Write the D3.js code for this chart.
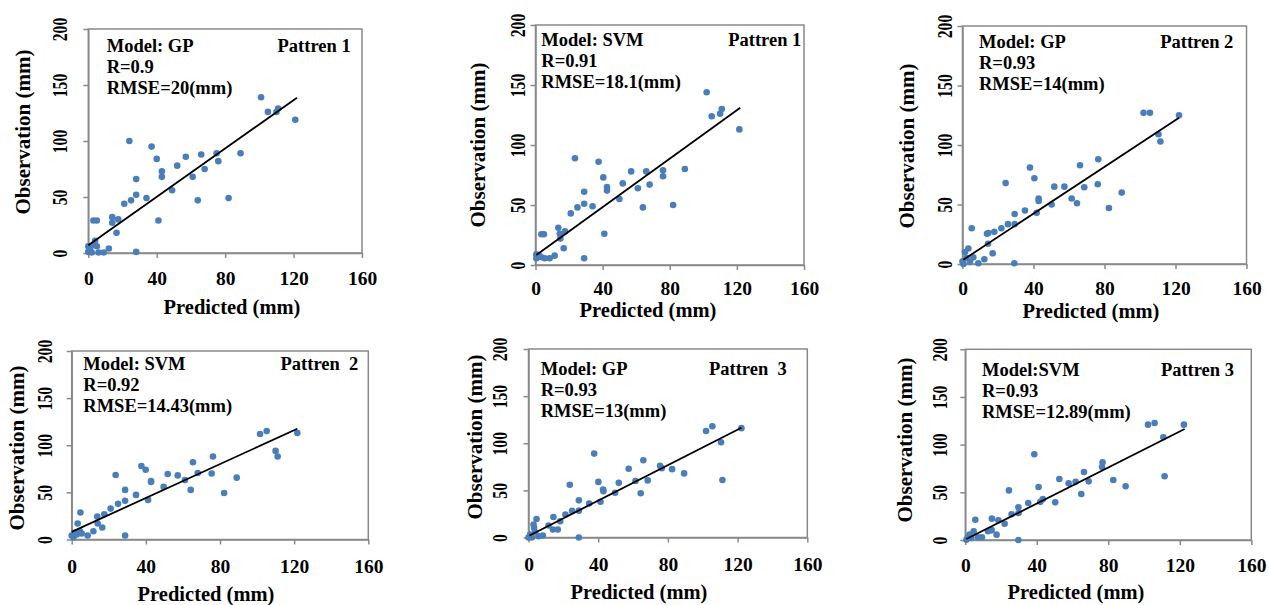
<!DOCTYPE html>
<html>
<head>
<meta charset="utf-8">
<script src="https://cdn.jsdelivr.net/npm/d3@7"></script>
<style>
  html, body { margin: 0; padding: 0; background: #fff; }
  svg text { font-family: "Liberation Serif", "Times New Roman", serif; font-weight: bold; fill: #000; }
</style>
</head>
<body>
<svg id="chart" width="1269" height="605"></svg>
<script>
// ---------------- DATA ----------------
const xTicks = [0, 40, 80, 120, 160];
const yTicks = [0, 50, 100, 150, 200];
const xTitle = "Predicted (mm)";
const yTitle = "Observation (mm)";

const models   = ["Model: GP", "Model: SVM", "Model: GP", "Model: SVM", "Model: GP", "Model:SVM"];
const rValues  = ["R=0.9", "R=0.91", "R=0.93", "R=0.92", "R=0.93", "R=0.93"];
const rmseText = ["RMSE=20(mm)", "RMSE=18.1(mm)", "RMSE=14(mm)", "RMSE=14.43(mm)", "RMSE=13(mm)", "RMSE=12.89(mm)"];
const patterns = ["Pattren 1", "Pattren 1", "Pattren 2", "Pattren  2", "Pattren  3", "Pattren 3"];

// predicted / observed pairs (mm)
const p1Pred = [101,105,110,111,121,24,37,40,57,66,75,89,76,52,68,43,43,61,28,49,28,25,21,34,64,82,41,3,5,14,14,17.5,16.5,4,0,5,12,0,2,6,9,28,1,3];
const p1Obs  = [139,126,126,129,119,100,95,84,86,88,89,89,82,78,75,73,68,68,66,56,52,47,44,49,47,49,29,29,29,32,27,30,18,11,6,6,4,1,0.5,0.5,0.5,1,3,7];

const p2Pred = [102,105,110,111,121.5,23.5,37.6,40.4,42.6,42.6,57,66,76,76,89,52,68,61,29,50,29,25,34,21,64,82,41,3.5,5,13.6,17.6,14.8,16.8,0.5,3.5,11.4,0.5,5.5,8.4,29,14.5,2.5];
const p2Obs  = [144,124,126,130,113,89,86,73,65,62,78,78,79,74,80,68,67,64,61,55,51,48,49,43,48,50,26,25.6,25.6,31,28,22,14,9,6.4,7.8,5.6,5.6,5.6,5.6,26,7.5];

const p3Pred = [102,105.6,122,110.4,111.5,24.3,38,40.5,42.9,42.9,41.8,51.7,57.4,66.2,68.6,76.5,76.2,89.7,61.5,64.5,82.5,50.2,35.2,29.4,29.4,25.6,21.9,17.9,13.8,14.5,14.4,5.2,17,12.3,8.9,29.2,3.3,1.4,6.1,0,4.2,2.3,0.5];
const p3Obs  = [127,127,125,109,103,68,81,72,55,53,43,65,65,83,64.5,88,67,60,55,51,47,50,45,42,33.5,33.5,30,27,25.4,26,17,30,9,4,0.6,0.6,13,10,5.6,2.2,1.7,5,0];

const p4Pred = [101.6,105.2,121.7,110,111.1,23.7,37.6,39.9,42.8,42.8,41.2,51.8,57.2,65.4,68,76.2,75.5,89,61.1,64.2,82.2,49.6,34.7,28.8,28.8,25,21,17.6,13.8,14,16.5,4.7,3.2,11.7,8.6,28.8,4.5,1.8,0,5.4,0.9,2.7];
const p4Obs  = [112,115,113,94,88,68.5,78,74,62,61,42,69.5,68,82,70.6,88,70,65.6,63,52.6,49.4,55.8,47.3,52.6,41,37.8,32.8,26.8,24.4,17,12.7,28.6,17,8.8,4.2,4.2,8.8,7.1,4.2,6.4,2.5,5.3];

const p5Pred = [101.9,105.5,122.2,110.5,111.3,23.7,37.7,40.1,42.8,43,41.3,51.8,57.5,65.9,68.4,75.5,76.5,82.4,61.4,64.4,89.3,49.7,34.8,28.9,28.9,25,21.2,18.2,14.3,14,16.8,4.6,2.9,11.5,8.2,28.9,5.7,1,0,3.8,1.9,3.2];
const p5Obs  = [113,118,116,101,61,56,89,59,51,49,38,58,73,82,60.6,76,73.6,72.5,60,47,68,47.5,36,39.4,28.5,28.2,24.3,17.3,21.8,8.5,8.5,19.7,13.7,12.7,2.1,0,1.4,3.2,0,5.6,0,10.2];

const p6Pred = [102.2,105.9,122.3,110.8,111.5,24.4,38.6,41,43.4,42,52.6,57.8,50.3,61.7,66.4,69,64.9,76.5,76.8,82.8,89.7,35.2,29.7,29.8,25.9,22,18.5,14.9,14.7,17.5,5.6,4.7,12.7,9.3,29.7,7.1,2.4,0.6,3.4,1.5,14.5];
const p6Obs  = [121,122.7,121,107.7,66.8,52,90,55.6,43,40,64,59.4,39.5,61,71.3,61.5,48.3,76.6,81.5,63,56.3,38.8,34.3,28.3,27,17,20.6,22.4,10.1,5.6,21.3,9.1,9.1,2.8,0,2.8,5.6,0.3,2.1,2.8,10.8];

// fitted trend lines: [predStart, obsStart, predEnd, obsEnd]
const trendLines = [
  [0, 7, 122, 138.7],
  [0.5, 8.3, 122, 131],
  [0.5, 3.6, 122, 122.9],
  [0, 8.1, 121.7, 117.5],
  [0.6, 2.1, 122.2, 116.5],
  [0.6, 1.0, 122.7, 116.4]
];

const preds = [p1Pred, p2Pred, p3Pred, p4Pred, p5Pred, p6Pred];
const obs   = [p1Obs,  p2Obs,  p3Obs,  p4Obs,  p5Obs,  p6Obs];

// ---------------- LAYOUT ----------------
const layout = [
  {x0: 88.3,  x1: 362,    y0: 253,   y1: 29,    ylab: 60,  ytx: 23,  yty: 132, xtx: 232,  xty: 314, xlo: 32, ann: [106.7, 51.7], pat: [350.7, 51.7]},
  {x0: 535.5, x1: 804,    y0: 265,   y1: 25,    ylab: 518, ytx: 478, yty: 145, xtx: 648,  xty: 317, xlo: 30, ann: [541.3, 45.7], pat: [801.3, 45.7]},
  {x0: 962.5, x1: 1246.5, y0: 264,   y1: 26,    ylab: 945, ytx: 907, yty: 146, xtx: 1091, xty: 318, xlo: 31, ann: [979,   47.7], pat: [1233.3, 47.7]},
  {x0: 71.7,  x1: 368.3,  y0: 539.5, y1: 351,   ylab: 45,  ytx: 17,  yty: 448, xtx: 206,  xty: 601, xlo: 33, ann: [83.3,  370],  pat: [358.3, 370]},
  {x0: 528.5, x1: 807.3,  y0: 537.5, y1: 349,   ylab: 500, ytx: 475, yty: 437, xtx: 639,  xty: 599, xlo: 33, ann: [540.7, 375],  pat: [786.7, 375]},
  {x0: 965.3, x1: 1251.3, y0: 540,   y1: 349.3, ylab: 940, ytx: 905, yty: 440, xtx: 1076, xty: 599, xlo: 32, ann: [982,   375.7], pat: [1234, 375.7]}
];

const svg = d3.select("#chart");
const axisColor = "#898989";
const dotColor = "#4a7ebb";

layout.forEach((L, i) => {
  const x = d3.scaleLinear().domain([0, 160]).range([L.x0, L.x1]);
  const y = d3.scaleLinear().domain([0, 200]).range([L.y0, L.y1]);
  const g = svg.append("g");

  g.append("rect")
    .attr("x", L.x0).attr("y", L.y1)
    .attr("width", L.x1 - L.x0).attr("height", L.y0 - L.y1)
    .attr("fill", "none").attr("stroke", axisColor).attr("stroke-width", 1.5);

  const xa = g.append("g").attr("transform", `translate(0,${L.y0})`)
    .call(d3.axisBottom(x).tickValues(xTicks).tickSize(5).tickSizeOuter(0).tickFormat(d3.format("d")));
  xa.select(".domain").attr("stroke", axisColor).attr("stroke-width", 1.5);
  xa.selectAll(".tick line").attr("stroke", axisColor).attr("stroke-width", 1.5);
  xa.selectAll(".tick text")
    .attr("y", L.xlo).attr("dy", null)
    .attr("font-size", 19.5).attr("font-family", "Liberation Serif").attr("font-weight", "bold").attr("fill", "#000");

  const ya = g.append("g").attr("transform", `translate(${L.x0},0)`)
    .call(d3.axisLeft(y).tickValues(yTicks).tickSize(5).tickSizeOuter(0).tickFormat(d3.format("d")));
  ya.select(".domain").attr("stroke", axisColor).attr("stroke-width", 1.5);
  ya.selectAll(".tick line").attr("stroke", axisColor).attr("stroke-width", 1.5);
  ya.selectAll(".tick text")
    .attr("x", null).attr("dy", null)
    .attr("text-anchor", "middle")
    .attr("transform", `translate(${L.ylab - L.x0},0) rotate(-90) scale(0.78,1) translate(0,7)`)
    .attr("font-size", 20).attr("font-family", "Liberation Serif").attr("font-weight", "bold").attr("fill", "#000");

  const pts = preds[i].map((p, k) => ({p, o: obs[i][k]}));
  g.append("g").selectAll("circle").data(pts).join("circle")
    .attr("cx", d => x(d.p)).attr("cy", d => y(d.o)).attr("r", 3.3)
    .attr("fill", dotColor);

  const t = trendLines[i];
  g.append("line")
    .attr("x1", x(t[0])).attr("y1", y(t[1]))
    .attr("x2", x(t[2])).attr("y2", y(t[3]))
    .attr("stroke", "#000").attr("stroke-width", 1.8);

  const ann = g.append("text").attr("font-size", 18.5);
  [models[i], rValues[i], rmseText[i]].forEach((s, k) => {
    ann.append("tspan").attr("x", L.ann[0]).attr("y", L.ann[1] + k * 21).text(s);
  });
  g.append("text").attr("x", L.pat[0]).attr("y", L.pat[1]).attr("text-anchor", "end")
    .attr("font-size", 18.5).attr("xml:space", "preserve").style("white-space", "pre").text(patterns[i]);

  g.append("text").attr("x", L.xtx).attr("y", L.xty).attr("text-anchor", "middle")
    .attr("font-size", 20.5).text(xTitle);
  g.append("text").attr("transform", `translate(${L.ytx + 7},${L.yty}) rotate(-90)`)
    .attr("text-anchor", "middle").attr("font-size", 21).text(yTitle);
});
</script>
</body>
</html>
